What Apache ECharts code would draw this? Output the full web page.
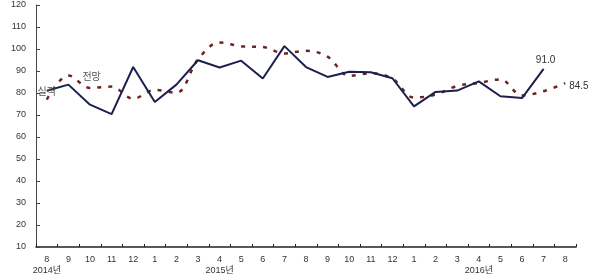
<!DOCTYPE html>
<html><head><meta charset="utf-8">
<script src="https://cdn.jsdelivr.net/npm/echarts@6/dist/echarts.min.js"></script>
<style>html,body{margin:0;padding:0;background:#fff}#c{width:600px;height:279px}</style>
</head><body><div id="c"></div>
<script>
const months = ['8','9','10','11','12','1','2','3','4','5','6','7','8','9','10','11','12','1','2','3','4','5','6','7','8'];
const yearLabels = ['2014년','','','','','','','','2015년','','','','','','','','','','','','2016년','','','',''];
const actual = [81.0, 83.8, 74.7, 70.4, 91.8, 75.9, 83.8, 94.9, 91.6, 94.7, 86.6, 101.3, 91.8, 87.3, 89.7, 89.4, 86.7, 73.9, 80.5, 81.1, 85.3, 78.5, 77.7, 91.0, null];
const forecast = [77.0, 88.0, 82.3, 82.9, 77.4, 81.4, 80.1, 95.3, 103.0, 101.2, 100.9, 98.0, 99.2, 96.5, 87.8, 89.0, 86.5, 77.9, 79.3, 83.2, 84.6, 86.2, 78.9, 80.8, 84.5];
const seriesNames = ['실적', '전망'];
const endLabels = {actual: '91.0', forecast: '84.5'};

const font = '"Liberation Sans","Noto Sans CJK KR",sans-serif';
const chart = echarts.init(document.getElementById('c'), null, {renderer: 'canvas'});

const actualData = actual.map((v, i) => {
  if (i === 0) return {value: v, label: {show: true, formatter: seriesNames[0], position: 'inside', offset: [0, 1], color: '#555', fontSize: 10, fontFamily: font}};
  if (i === 23) return {value: v, label: {show: true, formatter: endLabels.actual, position: 'top', distance: 4, offset: [2, 0], color: '#333', fontSize: 10, fontFamily: font}};
  return v;
});
const forecastData = forecast.map((v, i) => {
  if (i === 1) return {value: v, label: {show: true, formatter: seriesNames[1], position: 'right', distance: 14, offset: [0, 2], color: '#555', fontSize: 10, fontFamily: font}};
  if (i === 24) return {value: v, label: {show: true, formatter: endLabels.forecast, position: 'right', distance: 4, offset: [0, 3], color: '#333', fontSize: 10, fontFamily: font}};
  return v;
});

chart.setOption({
  animation: false,
  backgroundColor: '#fff',
  grid: {left: 36, right: 24, top: 5, bottom: 32},
  xAxis: {
    type: 'category',
    data: months,
    boundaryGap: true,
    axisLine: {lineStyle: {color: '#222', width: 1.5}},
    axisTick: {show: true, inside: true, length: 3, lineStyle: {color: '#222'}},
    axisLabel: {
      interval: 0, margin: 7, color: '#333', fontSize: 9, fontFamily: font,
      formatter: (v, i) => yearLabels[i] ? v + '\n{y|' + yearLabels[i] + '}' : v,
      lineHeight: 11,
      rich: {y: {fontSize: 9, color: '#333', fontFamily: font, lineHeight: 11}}
    },
    splitLine: {show: false}
  },
  yAxis: {
    type: 'value', min: 10, max: 120, interval: 10,
    axisLine: {show: true, lineStyle: {color: '#444', width: 1}},
    axisTick: {show: true, inside: true, length: 4, lineStyle: {color: '#444'}},
    axisLabel: {color: '#333', fontSize: 9, fontFamily: font, margin: 10},
    splitLine: {show: false}
  },
  series: [
    {
      name: seriesNames[1], type: 'line', data: forecastData, smooth: 0.35,
      symbol: 'circle', symbolSize: 0, showSymbol: true, z: 2,
      itemStyle: {color: '#6e2424'},
      lineStyle: {color: '#6e2424', width: 2.5, type: [4, 7]}
    },
    {
      name: seriesNames[0], type: 'line', data: actualData,
      symbol: 'circle', symbolSize: 0, showSymbol: true, z: 3,
      itemStyle: {color: '#1d1f4e'},
      lineStyle: {color: '#1d1f4e', width: 2}
    }
  ]
});
</script></body></html>
